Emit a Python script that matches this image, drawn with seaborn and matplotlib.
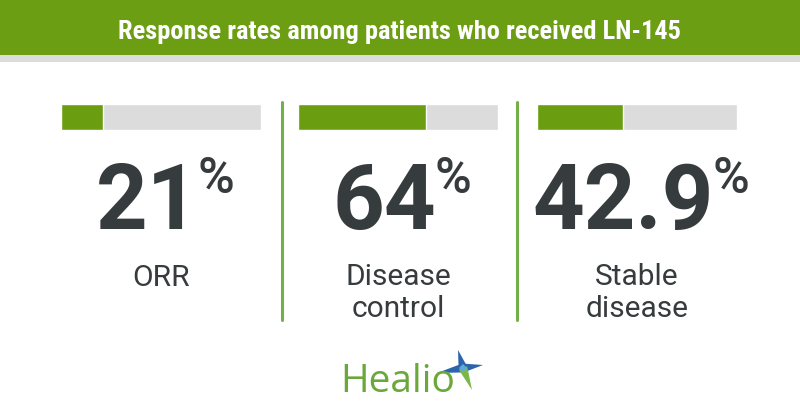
import matplotlib
matplotlib.use("Agg")
import matplotlib.pyplot as plt
import seaborn as sns
import pandas as pd
from matplotlib.patches import Rectangle, Polygon
from matplotlib.lines import Line2D

# ---- data ----
title = "Response rates among patients who received LN-145"
metrics = ["ORR", "Disease\ncontrol", "Stable\ndisease"]
values = [21, 64, 42.9]
value_labels = ["21", "64", "42.9"]
full_scale = [100, 100, 100]
brand = "Healio"

# ---- style ----
W, H, DPI = 800, 420, 100
sns.set_theme(style="white")
plt.rcParams['font.family'] = ['Roboto', 'DejaVu Sans']

BANNER = '#6b9e12'
BAR_GREEN = '#6a9e10'
BAR_GRAY = '#dcdcdc'
STRIP = '#dcdcdc'
DIVIDER = '#74b049'
DARK = '#363b3d'
LOGO_GREEN = '#6aa83a'

fig = plt.figure(figsize=(W / DPI, H / DPI), dpi=DPI)
fig.patch.set_facecolor('white')


def fx(px):
    return px / W


def fy(py):
    return 1 - py / H


# banner + strip
fig.add_artist(Rectangle((0, fy(55)), 1, 55 / H, transform=fig.transFigure,
                         facecolor=BANNER, edgecolor='none', zorder=0))
fig.add_artist(Rectangle((0, fy(62)), 1, 7 / H, transform=fig.transFigure,
                         facecolor=STRIP, edgecolor='none', zorder=0))

renderer = fig.canvas.get_renderer()

t = fig.text(0.5, fy(38.5), title, ha='center', va='baseline', color='white',
             fontsize=16, fontweight='bold',
             family=['Roboto Condensed', 'Liberation Sans Narrow', 'Roboto'])
w = t.get_window_extent(renderer).width
t.set_fontsize(16 * 562 / w)

# panels
lefts = [61, 298, 537]
bar_w = 200
line_gap = 31
for i in range(len(metrics)):
    left = lefts[i]
    ax = fig.add_axes([fx(left), fy(130), bar_w / W, 26 / H])
    df = pd.DataFrame({"metric": [metrics[i]], "value": [values[i]],
                       "full": [full_scale[i]]})
    sns.barplot(data=df, x="full", y="metric", color=BAR_GRAY, width=1,
                saturation=1, errorbar=None, ax=ax)
    sns.barplot(data=df, x="value", y="metric", color=BAR_GREEN, width=1,
                saturation=1, errorbar=None, ax=ax)
    ax.set_xlim(0, 100)
    ax.set_ylim(0.5, -0.5)
    ax.axis('off')

    cx = left + bar_w / 2
    num = fig.text(0, fy(229), value_labels[i], fontsize=65, fontweight='bold',
                   color=DARK, ha='left', va='baseline')
    pct = fig.text(0, fy(193), '%', fontsize=36, fontweight='medium',
                   color=DARK, ha='left', va='baseline')
    wn = num.get_window_extent(renderer).width
    wp = pct.get_window_extent(renderer).width
    gap = -2
    x0 = cx + 4 - (wn + gap + wp) / 2
    num.set_x(fx(x0))
    pct.set_x(fx(x0 + wn + gap))

    nlines = metrics[i].count("\n")
    fig.text(fx(cx), fy(286 + line_gap * nlines), metrics[i], fontsize=21.5,
             color=DARK, ha='center', va='baseline', linespacing=1.2)

# dividers
for xd in [282, 517]:
    fig.add_artist(Line2D([fx(xd), fx(xd)], [fy(102), fy(320)],
                          transform=fig.transFigure, color=DIVIDER, lw=2.2))

# logo
fig.text(fx(340), fy(392), brand, fontsize=28, color=LOGO_GREEN,
         ha='left', va='baseline', family=['Open Sans', 'DejaVu Sans'])

c = (463, 368)
arms = [((437, 373), '#2b64ad'), ((458, 350), '#2b64ad'),
        ((483, 365), '#2b64ad'), ((472, 390), '#7ab648')]
for (px_, py_), col in arms:
    dx, dy = px_ - c[0], py_ - c[1]
    n = (dx ** 2 + dy ** 2) ** 0.5
    ox, oy = -dy / n * 4.5, dx / n * 4.5
    pts = [(fx(c[0] + ox), fy(c[1] + oy)), (fx(px_), fy(py_)),
           (fx(c[0] - ox), fy(c[1] - oy))]
    fig.add_artist(Polygon(pts, closed=True, transform=fig.transFigure,
                           facecolor=col, edgecolor='none'))
fig.add_artist(Polygon([(fx(c[0] - 4), fy(c[1])), (fx(c[0]), fy(c[1] - 4)),
                        (fx(c[0] + 4), fy(c[1])), (fx(c[0]), fy(c[1] + 4))],
                       closed=True, transform=fig.transFigure,
                       facecolor='#5ea8dd', edgecolor='none'))

fig.savefig("out.png", dpi=DPI, facecolor='white')
